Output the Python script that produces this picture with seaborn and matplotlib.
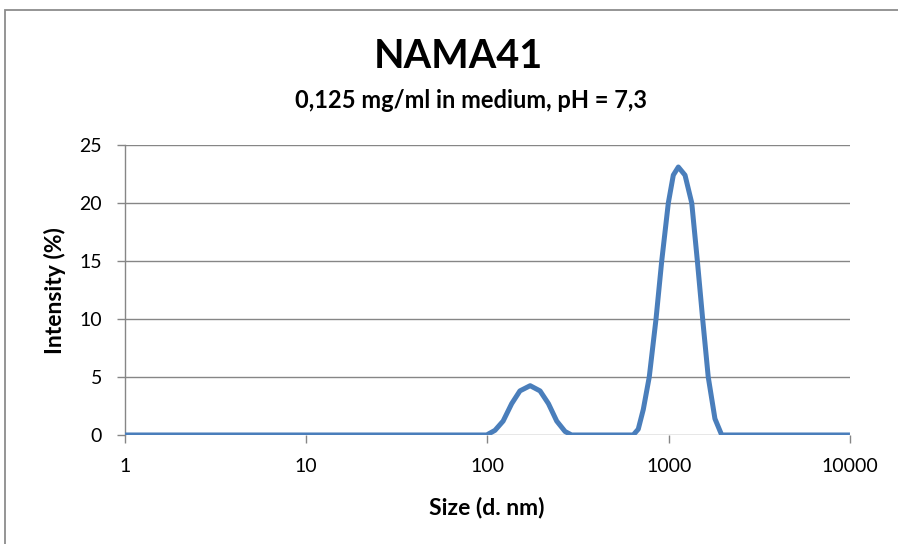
import numpy as np
import pandas as pd
import seaborn as sns
import matplotlib.pyplot as plt
from matplotlib.patches import Rectangle
from matplotlib.ticker import FixedLocator, FixedFormatter, NullLocator

# Datos (tamaño en nm, intensidad en %)
size_nm = [0.4, 1, 10, 99, 110, 122, 136, 151, 172, 195, 217, 241, 268, 291,
           637, 679, 724, 781, 851, 915, 995, 1060, 1130, 1230, 1340, 1439,
           1539, 1652, 1799, 1960, 10000]
intensity = [0, 0, 0, 0, 0.4, 1.2, 2.7, 3.8, 4.25, 3.8, 2.7, 1.2, 0.3, 0,
             0, 0.5, 2.2, 5.0, 10.0, 15.0, 20.0, 22.4, 23.1, 22.4, 20.0, 15.0,
             10.0, 5.0, 1.4, 0, 0]

titulo = "NAMA41"
subtitulo = "0,125 mg/ml in medium, pH = 7,3"
xticks = [1, 10, 100, 1000, 10000]
xtick_labels = ["1", "10", "100", "1000", "10000"]
yticks = [0, 5, 10, 15, 20, 25]

df = pd.DataFrame({"Size": size_nm, "Intensity": intensity})

sns.set_style("white")
plt.rcParams["font.family"] = ["Lato", "DejaVu Sans"]
plt.rcParams["text.color"] = "black"

fig = plt.figure(figsize=(8.98, 5.44), dpi=100)
ax = fig.add_axes([0.1392, 0.2004, 0.8073, 0.5331])

grid_c = "#868686"
for y in yticks:
    ax.axhline(y, color=grid_c, lw=1.0, zorder=1)

sns.lineplot(data=df, x="Size", y="Intensity", ax=ax, color="#4A7EBB",
             lw=3.6, solid_joinstyle="round", solid_capstyle="butt", zorder=3)

ax.set_xscale("log")
ax.set_xlim(1, 10000)
ax.set_ylim(0, 25)
ax.xaxis.set_major_locator(FixedLocator(xticks))
ax.xaxis.set_major_formatter(FixedFormatter(xtick_labels))
ax.xaxis.set_minor_locator(NullLocator())
ax.set_yticks(yticks)
ax.tick_params(axis="both", direction="out", length=5.5, width=1, color=grid_c,
               labelcolor="black", labelsize=14, left=True, bottom=True)
ax.tick_params(axis="y", pad=11)
ax.tick_params(axis="x", pad=11)

for s in ["top", "right", "bottom"]:
    ax.spines[s].set_visible(False)
ax.spines["left"].set_color(grid_c)
ax.spines["left"].set_linewidth(1.0)
ax.patch.set_alpha(0)

ax.set_xlabel("")
ax.set_ylabel("")
fig.text(55 / 898, 1 - 291 / 544, "Intensity (%)", rotation=90, ha="center",
         va="center", fontsize=16.5, fontweight="bold")
fig.text(487 / 898, 1 - 507 / 544, "Size (d. nm)", ha="center", va="center",
         fontsize=16.5, fontweight="bold")
fig.text(458 / 898, 1 - 57 / 544, titulo, ha="center", va="center",
         fontsize=28.5, fontweight="bold")
fig.text(471 / 898, 1 - 101 / 544, subtitulo, ha="center", va="center",
         fontsize=17, fontweight="bold")

# marco del gráfico
fig.patches.append(Rectangle((4.5 / 898, -0.1), 1.2, 1 - 9.5 / 544 + 0.1,
                             transform=fig.transFigure, fill=False,
                             edgecolor="#8C8C8C", lw=1.3))

fig.savefig("out.png", dpi=100)
